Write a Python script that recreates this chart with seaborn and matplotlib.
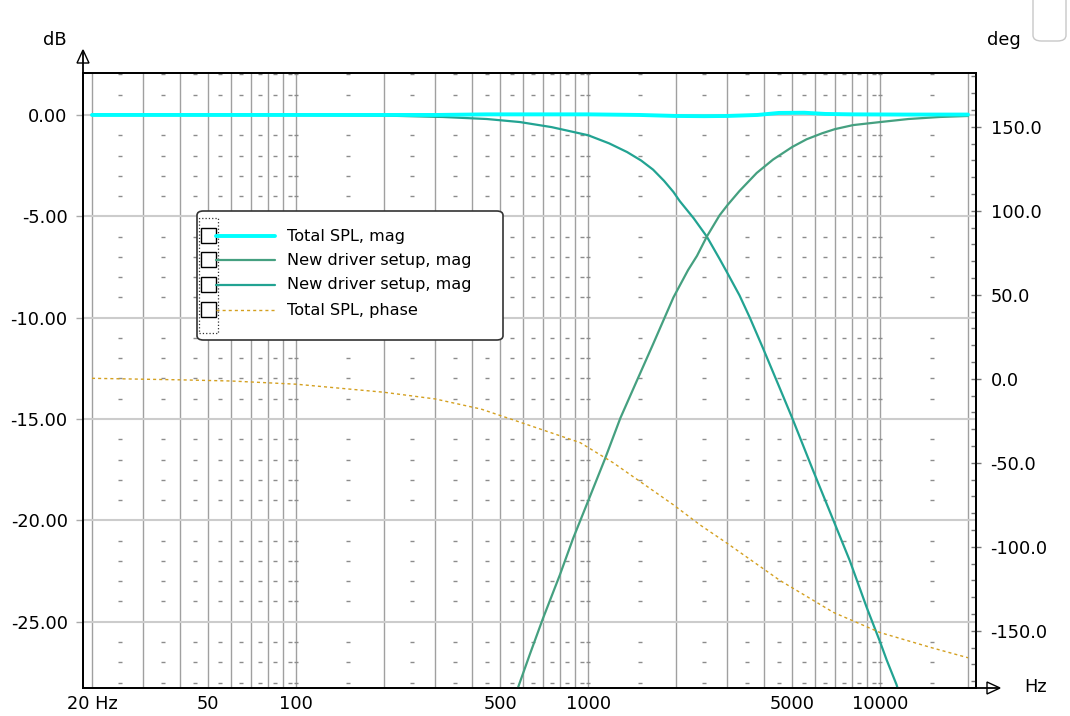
import numpy as np
import pandas as pd
import matplotlib.pyplot as plt
import seaborn as sns
from matplotlib.patches import FancyBboxPatch, Polygon, Rectangle
from matplotlib.lines import Line2D
from matplotlib.ticker import FixedLocator, NullFormatter

# Total SPL, magnitude (dB)
total_freq = [20, 300, 450, 700, 1000, 1500, 2000, 2500, 3000, 3800, 4500, 5500, 6500, 8000, 12000, 20000]
total_db = [0.0, 0.0, 0.03, 0.03, 0.03, 0.0, -0.05, -0.06, -0.05, 0.0, 0.1, 0.11, 0.05, 0.03, 0.02, 0.02]

# New driver setup (high pass), magnitude (dB)
hp_freq = [540, 577, 632, 700, 800, 888, 1000, 1140, 1290, 1470, 1670, 1960, 2200, 2360, 2550,
           2820, 3000, 3300, 3780, 4300, 5000, 5600, 6340, 7000, 8080, 10000, 12500, 16000, 20000]
hp_db = [-29.3, -28.2, -26.6, -24.85, -22.7, -20.9, -19.05, -17.0, -14.95, -13.1, -11.3, -9.0, -7.65, -6.95, -6.0,
         -4.95, -4.45, -3.75, -2.86, -2.2, -1.58, -1.2, -0.9, -0.7, -0.5, -0.35, -0.2, -0.1, -0.05]

# New driver setup (low pass), magnitude (dB)
lp_freq = [20, 100, 200, 318, 450, 584, 750, 1000, 1180, 1360, 1520, 1670, 1820, 1960, 2060, 2300, 2550,
           2820, 3000, 3300, 3580, 3970, 4540, 5000, 5880, 6920, 7880, 9000, 10000, 10540, 11380, 12500]
lp_db = [0.0, 0.0, -0.03, -0.1, -0.2, -0.35, -0.6, -1.0, -1.4, -1.83, -2.25, -2.7, -3.25, -3.8, -4.25, -5.1, -6.0,
         -7.1, -7.8, -8.9, -10.0, -11.5, -13.5, -14.95, -17.5, -20.0, -22.0, -24.3, -26.0, -26.9, -28.1, -30.0]

# Total SPL, phase (deg)
phase_freq = [20, 40, 60, 100, 200, 300, 430, 580, 940, 1220, 1960, 2420, 3000, 4540, 6920, 10000, 15000, 20000]
phase_deg = [0.3, -0.6, -1.3, -3.2, -8, -12, -18, -25.6, -38, -50, -75, -87, -98, -120, -139, -151, -160, -166]

labels = ["Total SPL, mag", "New driver setup, mag", "New driver setup, mag", "Total SPL, phase"]
x_ticks = [20, 50, 100, 500, 1000, 5000, 10000]
x_tick_labels = ["20 Hz", "50", "100", "500", "1000", "5000", "10000"]

c_total = "#00ffff"
c_hp = "#45a080"
c_lp = "#22a392"
c_phase = "#d4a020"

W, H = 1070, 716

def fx(x):
    return x / W

def fy(y):
    return 1 - y / H

sns.set_theme(style="white")
plt.rcParams['font.family'] = ['DejaVu Sans']
plt.rcParams['text.color'] = 'black'
plt.rcParams['xtick.color'] = 'black'
plt.rcParams['ytick.color'] = 'black'

fig = plt.figure(figsize=(W / 100, H / 100), dpi=100)
ax = fig.add_axes([fx(83), fy(688), (976 - 83) / W, (688 - 73) / H])
ax.set_xscale('log')

df_total = pd.DataFrame({"f": total_freq, "v": total_db})
df_hp = pd.DataFrame({"f": hp_freq, "v": hp_db})
df_lp = pd.DataFrame({"f": lp_freq, "v": lp_db})
df_phase = pd.DataFrame({"f": phase_freq, "v": phase_deg})

sns.lineplot(data=df_lp, x="f", y="v", ax=ax, color=c_lp, lw=1.6, zorder=3)
sns.lineplot(data=df_hp, x="f", y="v", ax=ax, color=c_hp, lw=1.6, zorder=3)
sns.lineplot(data=df_total, x="f", y="v", ax=ax, color=c_total, lw=2.8, zorder=4)

ax.set_xlim(20 * 10 ** (-9 / 292), 20000 * 10 ** (8 / 292))
ax.set_ylim(-28.27, 2.07)
ax.set_xlabel("")
ax.set_ylabel("")

# grid: vertical lines at 1..9 x decade, short dashes between
minor_x = [m * 10 ** k for k in range(1, 5) for m in range(1, 10)]
minor_x = [v for v in minor_x if 20 <= v <= 20000 and v not in x_ticks]
ax.xaxis.set_major_locator(FixedLocator(x_ticks))
ax.set_xticklabels(x_tick_labels)
ax.xaxis.set_minor_locator(FixedLocator(minor_x))
ax.xaxis.set_minor_formatter(NullFormatter())
ax.set_yticks([0, -5, -10, -15, -20, -25])
ax.set_yticklabels(["%.2f" % v for v in [0, -5, -10, -15, -20, -25]])
ax.set_axisbelow(True)
ax.grid(which='both', axis='x', color='#a0a0a0', lw=1.0)
ax.grid(which='major', axis='y', color='#cccccc', lw=1.5)

dash_x = [m * 10 ** k for k in range(1, 5) for m in [1.5, 2.5, 3.5, 4.5, 5.5, 6.5, 7.5, 8.5, 9.5, 10]]
dash_x = [v for v in dash_x if 20 <= v <= 20000]
dash_y = [v for v in range(-28, 3) if v % 5 != 0]
gx, gy = np.meshgrid(dash_x, dash_y)
ax.plot(gx.ravel(), gy.ravel(), ls='none', marker='_', ms=2.8, mew=1.0, color='#8c8c8c', zorder=1)

ax.tick_params(axis='x', which='both', length=0, pad=5, labelsize=12.8, labelcolor='black')
ax.tick_params(axis='y', which='major', length=5, width=1, color='#aaaaaa', pad=6, labelsize=12.8,
               labelcolor='black', left=True)
for s in ax.spines.values():
    s.set_color('black')
    s.set_linewidth(1.3)

ax2 = ax.twinx()
sns.lineplot(data=df_phase, x="f", y="v", ax=ax2, color=c_phase, lw=1.0, zorder=2)
ax2.lines[0].set_dashes((2.2, 2.2))
ax2.set_ylim(-184, 182)
ax2.set_xlabel("")
ax2.set_ylabel("")
ax2.grid(False)
ax2.set_yticks([150, 100, 50, 0, -50, -100, -150])
ax2.set_yticklabels(["%.1f" % v for v in [150, 100, 50, 0, -50, -100, -150]])
ax2.yaxis.set_minor_locator(FixedLocator([v for v in range(-180, 181, 10) if v % 50 != 0]))
ax2.tick_params(axis='y', which='major', length=7, width=1, direction='inout', color='#777777',
                pad=7, labelsize=12.8, labelcolor='black', right=True)
ax2.tick_params(axis='y', which='minor', length=3.5, width=1, direction='in', color='#777777', right=True)
for s in ax2.spines.values():
    s.set_color('black')
    s.set_linewidth(1.3)

# axis names and arrows
fig.text(fx(55), fy(45), "dB", ha='center', va='baseline', fontsize=12.8)
fig.text(fx(1004), fy(45), "deg", ha='center', va='baseline', fontsize=12.8)
fig.text(fx(1036), fy(692), "Hz", ha='center', va='baseline', fontsize=12.8)
fig.add_artist(Line2D([fx(83), fx(83)], [fy(73), fy(52)], color='black', lw=1.3))
fig.add_artist(Polygon([(fx(77), fy(63)), (fx(89), fy(63)), (fx(83), fy(50))], closed=True,
                       fc='white', ec='black', lw=1.0))
fig.add_artist(Line2D([fx(976), fx(998)], [fy(688), fy(688)], color='black', lw=1.3))
fig.add_artist(Polygon([(fx(987), fy(682)), (fx(987), fy(694)), (fx(1000), fy(688))], closed=True,
                       fc='white', ec='black', lw=1.0))

# small rounded square in the corner
fig.add_artist(FancyBboxPatch((fx(1033), fy(41)), 33 / W, 60 / H,
                              boxstyle="round,pad=0,rounding_size=0.008",
                              fc='white', ec='#c8c8c8', lw=1.0))

# legend box with check boxes
fig.add_artist(FancyBboxPatch((fx(197), fy(340)), (503 - 197) / W, (340 - 211) / H,
                              boxstyle="round,pad=0,rounding_size=0.006",
                              fc='white', ec='#333333', lw=1.2, zorder=10))
fig.add_artist(Rectangle((fx(199), fy(333)), 19 / W, (333 - 218) / H, fc='none', ec='#333333',
                         lw=0.9, ls=':', zorder=11))
rows = [236, 260, 285, 310]
styles = [(c_total, 2.8, '-'), (c_hp, 1.6, '-'), (c_lp, 1.6, '-'), (c_phase, 1.0, (0, (2.2, 2.2)))]
for r, lab, (col, lw, ls) in zip(rows, labels, styles):
    fig.add_artist(Rectangle((fx(200.5), fy(r + 7)), 15 / W, 15 / H, fc='white', ec='black', lw=1.0, zorder=11))
    fig.add_artist(Line2D([fx(216), fx(275)], [fy(r), fy(r)], color=col, lw=lw, ls=ls, zorder=11))
    fig.text(fx(287), fy(r), lab, ha='left', va='center', fontsize=11.6, zorder=12)

plt.savefig("out.png", dpi=100)
